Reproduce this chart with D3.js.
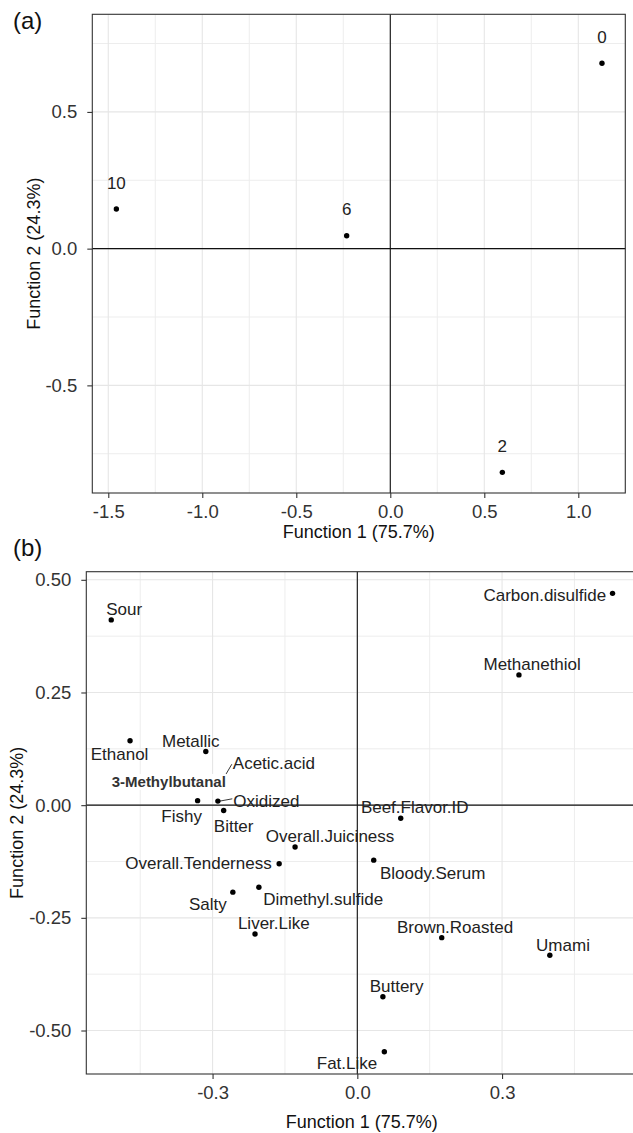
<!DOCTYPE html>
<html>
<head>
<meta charset="utf-8">
<script src="https://cdn.jsdelivr.net/npm/d3@7"></script>
<style>
  body { margin: 0; background: #fff; }
  svg { display: block; font-family: "Liberation Sans", Arial, sans-serif; }
</style>
</head>
<body>
<svg id="chart" width="633" height="1133"></svg>
<script>
// (a) sample groups (storage days)
var groupNames = ["0", "2", "6", "10"];
var groupF1 = [1.126, 0.596, -0.232, -1.457];
var groupF2 = [0.678, -0.818, 0.047, 0.145];

// (b) attribute loadings
var attrNames = ["Sour", "Ethanol", "Metallic", "Acetic.acid", "Fishy", "Oxidized", "Bitter",
  "Overall.Juiciness", "Overall.Tenderness", "Salty", "Dimethyl.sulfide", "Liver.Like",
  "Beef.Flavor.ID", "Bloody.Serum", "Carbon.disulfide", "Methanethiol", "Brown.Roasted",
  "Umami", "Buttery", "Fat.Like"];
var attrF1 = [-0.510, -0.471, -0.314, -0.280, -0.331, -0.289, -0.277,
  -0.129, -0.162, -0.258, -0.204, -0.212,
  0.090, 0.034, 0.529, 0.335, 0.175,
  0.399, 0.053, 0.056];
var attrF2 = [0.411, 0.143, 0.119, 0.062, 0.010, 0.009, -0.012,
  -0.093, -0.130, -0.193, -0.182, -0.286,
  -0.029, -0.122, 0.470, 0.289, -0.294,
  -0.333, -0.425, -0.547];

// axis ticks
var aTicksX = [-1.5, -1.0, -0.5, 0.0, 0.5, 1.0];
var aTicksY = [-0.5, 0.0, 0.5];
var bTicksX = [-0.3, 0.0, 0.3];
var bTicksY = [-0.50, -0.25, 0.00, 0.25, 0.50];

var axisTitleX = "Function 1 (75.7%)";
var axisTitleY = "Function 2 (24.3%)";

// label placement for panel (b), pixel nudges from the point (like ggrepel output)
var nudgeB = {
  "Sour": [13, -11], "Ethanol": [-10.5, 13.5], "Metallic": [-15, -11],
  "Acetic.acid": [51.7, -14], "Fishy": [-16, 15], "Oxidized": [48.5, -0.3],
  "Bitter": [10, 15.3], "Overall.Juiciness": [35, -10.7], "Overall.Tenderness": [-80.7, -1.3],
  "Salty": [-25, 11.7], "Dimethyl.sulfide": [64.3, 11.7], "Liver.Like": [18.8, -11.6],
  "Beef.Flavor.ID": [14, -11.3], "Bloody.Serum": [59, 13], "Carbon.disulfide": [-67.7, 1.6],
  "Methanethiol": [13.2, -11], "Brown.Roasted": [13.3, -10.7], "Umami": [13.2, -10.7],
  "Buttery": [13.7, -11], "Fat.Like": [-37.3, 11.3]
};
var leaders = ["Acetic.acid", "Oxidized"];

var svg = d3.select("#chart");

function fmt(p) {
  var f = d3.format(p);
  return function(v) { return f(v).replace("\u2212", "-"); };
}

// minor grid lines sit half way between the breaks
function minorOf(ticks, dom) {
  var step = ticks[1] - ticks[0], out = [ticks[0] - step / 2];
  ticks.forEach(function(t) { out.push(t + step / 2); });
  return out.filter(function(v) { return v > dom[0] && v <= dom[1] + 1e-9; });
}

function drawPanel(c) {
  var x = d3.scaleLinear().domain(c.xDom).range([c.left, c.right]);
  var y = d3.scaleLinear().domain(c.yDom).range([c.bottom, c.top]);
  var g = svg.append("g");

  // grid
  var grid = g.append("g");
  grid.selectAll(".vmin").data(minorOf(c.xTicks, c.xDom)).enter().append("line")
    .attr("x1", x).attr("x2", x).attr("y1", c.top).attr("y2", c.bottom)
    .attr("stroke", "#ededed").attr("stroke-width", 1);
  grid.selectAll(".hmin").data(minorOf(c.yTicks, c.yDom)).enter().append("line")
    .attr("y1", y).attr("y2", y).attr("x1", c.left).attr("x2", c.right)
    .attr("stroke", "#ededed").attr("stroke-width", 1);
  grid.selectAll(".vmaj").data(c.xTicks).enter().append("line")
    .attr("x1", x).attr("x2", x).attr("y1", c.top).attr("y2", c.bottom)
    .attr("stroke", "#e6e6e6").attr("stroke-width", 1.1);
  grid.selectAll(".hmaj").data(c.yTicks).enter().append("line")
    .attr("y1", y).attr("y2", y).attr("x1", c.left).attr("x2", c.right)
    .attr("stroke", "#e6e6e6").attr("stroke-width", 1.1);

  // zero reference lines
  g.append("line").attr("x1", x(0)).attr("x2", x(0)).attr("y1", c.top).attr("y2", c.bottom)
    .attr("stroke", "#111").attr("stroke-width", 1.1);
  g.append("line").attr("y1", y(0)).attr("y2", y(0)).attr("x1", c.left).attr("x2", c.right)
    .attr("stroke", "#111").attr("stroke-width", 1.1);

  // frame
  g.append("rect").attr("x", c.left).attr("y", c.top)
    .attr("width", c.right - c.left).attr("height", c.bottom - c.top)
    .attr("fill", "none").attr("stroke", "#333").attr("stroke-width", 1.1);

  // axes
  var ax = g.append("g").attr("transform", "translate(0," + c.bottom + ")")
    .call(d3.axisBottom(x).tickValues(c.xTicks).tickFormat(fmt(c.fx)).tickSize(5).tickPadding(7));
  var ay = g.append("g").attr("transform", "translate(" + c.left + ",0)")
    .call(d3.axisLeft(y).tickValues(c.yTicks).tickFormat(fmt(c.fy)).tickSize(5).tickPadding(10));
  [ax, ay].forEach(function(a) {
    a.select(".domain").remove();
    a.selectAll(".tick line").attr("stroke", "#333").attr("stroke-width", 1.1);
    a.selectAll(".tick text").attr("fill", "#333").style("font-size", "18.5px")
      .style("font-family", "'Liberation Sans', Arial, sans-serif");
  });

  // titles
  svg.append("text").attr("x", (c.left + c.right) / 2).attr("y", c.titleXy)
    .attr("text-anchor", "middle").attr("fill", "#111").style("font-size", "18px")
    .text(axisTitleX);
  svg.append("text")
    .attr("transform", "translate(" + c.titleYx + "," + (c.top + c.bottom) / 2 + ") rotate(-90)")
    .attr("text-anchor", "middle").attr("dy", "0.36em").attr("fill", "#111").style("font-size", "18px")
    .text(axisTitleY);

  svg.append("text").attr("x", 13).attr("y", c.tagY).attr("fill", "#111")
    .style("font-size", "24px").text(c.tag);

  return { x: x, y: y, g: g };
}

// ---- panel (a)
var pa = drawPanel({
  left: 92.3, right: 625.3, top: 14.3, bottom: 493,
  xDom: [-1.585, 1.25], yDom: [-0.8936, 0.857],
  xTicks: aTicksX, yTicks: aTicksY, fx: ".1f", fy: ".1f",
  titleXy: 538, titleYx: 34, tag: "(a)", tagY: 29
});
var groups = groupNames.map(function(n, i) { return { name: n, f1: groupF1[i], f2: groupF2[i] }; });
pa.g.selectAll(".gpt").data(groups).enter().append("circle")
  .attr("cx", function(d) { return pa.x(d.f1); })
  .attr("cy", function(d) { return pa.y(d.f2); })
  .attr("r", 2.7).attr("fill", "#000");
pa.g.selectAll(".glab").data(groups).enter().append("text")
  .attr("x", function(d) { return pa.x(d.f1); })
  .attr("y", function(d) { return pa.y(d.f2) - 26.6; })
  .attr("dy", "0.36em").attr("text-anchor", "middle")
  .attr("fill", "#222").style("font-size", "17px")
  .text(function(d) { return d.name; });

// ---- panel (b)
var pb = drawPanel({
  left: 86.3, right: 637.3, top: 571.7, bottom: 1074,
  xDom: [-0.5617, 0.5803], yDom: [-0.5965, 0.518],
  xTicks: bTicksX, yTicks: bTicksY, fx: ".1f", fy: ".2f",
  titleXy: 1128, titleYx: 17, tag: "(b)", tagY: 556
});
var attrs = attrNames.map(function(n, i) { return { name: n, f1: attrF1[i], f2: attrF2[i] }; });

function labX(d) { return pb.x(d.f1) + nudgeB[d.name][0]; }
function labY(d) { return pb.y(d.f2) + nudgeB[d.name][1]; }

// leader segments first, so the annotation box hides their start
var leadG = pb.g.append("g");

pb.g.selectAll(".apt").data(attrs).enter().append("circle")
  .attr("cx", function(d) { return pb.x(d.f1); })
  .attr("cy", function(d) { return pb.y(d.f2); })
  .attr("r", 2.7).attr("fill", "#000");

// bold annotation with white box
var annX = -0.3907, annY = 0.0524;
var ann = pb.g.append("g");
var annText = ann.append("text")
  .attr("x", pb.x(annX)).attr("y", pb.y(annY)).attr("dy", "0.36em")
  .attr("text-anchor", "middle").attr("fill", "#333")
  .style("font-size", "15px").style("font-weight", "bold")
  .text("3-Methylbutanal");
var bb = annText.node().getBBox();
ann.insert("rect", "text").attr("x", bb.x - 1).attr("y", bb.y + 1)
  .attr("width", bb.width + 2).attr("height", bb.height - 1).attr("fill", "#fff");

var labs = pb.g.selectAll(".alab").data(attrs).enter().append("text")
  .attr("x", labX).attr("y", labY).attr("dy", "0.36em")
  .attr("text-anchor", "middle").attr("fill", "#222").style("font-size", "17px")
  .text(function(d) { return d.name; });

// segment from the point to the left edge of its label
labs.each(function(d) {
  if (leaders.indexOf(d.name) < 0) return;
  var b = this.getBBox();
  leadG.append("line")
    .attr("x1", pb.x(d.f1) + 2).attr("y1", pb.y(d.f2))
    .attr("x2", b.x - 1).attr("y2", labY(d) + (d.name === "Oxidized" ? -2 : 1))
    .attr("stroke", "#222").attr("stroke-width", 0.9);
});
</script>
</body>
</html>
